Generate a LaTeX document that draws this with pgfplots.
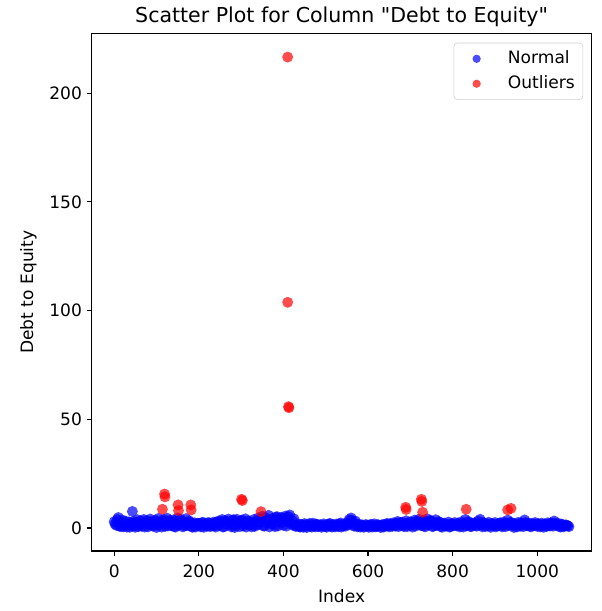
\documentclass[border=0pt]{standalone}
\usepackage{pgfplots}
\pgfplotsset{compat=1.18}
\usepackage{fontspec}
\setmainfont{DejaVu Sans}
\newfontfamily\qfont{DejaVu Sans}
\definecolor{mplblue}{RGB}{0,0,255}
\definecolor{mplred}{RGB}{255,0,0}
\begin{document}
\begin{tikzpicture}
\begin{axis}[
  name=ax,
  at={(0pt,0pt)}, anchor=south west,
  scale only axis, width=375.2pt, height=388.2pt,
  xmin=-53.7, xmax=1128.7, ymin=-10.6, ymax=227.5,
  xtick={0,200,400,600,800,1000}, ytick={0,50,100,150,200},
  tick pos=left, tick align=outside, major tick length=3.65pt,
  every tick/.style={black, line width=0.83pt},
  axis line style={black, line width=0.83pt},
  /pgf/number format/assume math mode=true,
  /pgf/number format/1000 sep={},
  tick label style={font=\fontsize{12.8}{15}\selectfont},
  x tick label style={anchor=base, yshift=-16.4pt},
  y tick label style={anchor=east, inner sep=0pt, xshift=-3.3pt},
  every axis x label/.style={at={(axis description cs:0.5,0)}, anchor=base, yshift=-38.8pt, font=\fontsize{12.8}{15}\selectfont},
  every axis y label/.style={at={(axis description cs:0,0.5)}, xshift=-43.8pt, anchor=base, rotate=90, font=\fontsize{12.8}{15}\selectfont},
  title style={at={(axis description cs:0.5,1)}, anchor=base, yshift=2.5pt, font=\fontsize{15.4}{18}\selectfont},
  title={Scatter Plot for Column {\qfont"}Debt to Equity{\qfont"}},
  xlabel={Index}, ylabel={Debt to Equity},
  legend style={at={(axis description cs:1,1)}, anchor=north east, xshift=-6.5pt, yshift=-7pt,
    draw=black!20, rounded corners=2.5pt, fill=white, inner xsep=3pt, inner ysep=5.7pt,
    row sep=6.4pt,
    font=\fontsize{12.8}{15}\selectfont, cells={anchor=west},
    nodes={inner xsep=3pt, inner ysep=0pt, text height=9.8pt, text depth=2.5pt}},
  legend image code/.code={\path[draw=none, fill=none] (0pt,-3pt) rectangle (34.5pt,3pt); \draw[#1, mark size=3.1pt] plot coordinates {(14pt,0pt)};},
]
\addplot[only marks, mark=*, mark size=4.1pt, mark options={fill=mplblue, draw opacity=0, fill opacity=0.7}] coordinates {
(0,2.9)(5,1.2)(10,4.8)(15,0.6)(20,3.6)(25,1.9)(30,0.4)(35,2.8)(40,1.1)(43,7.6)(45,3.0)
(50,0.3)(55,3.8)(60,1.7)(65,0.8)(70,3.9)(75,2.2)(80,0.5)(85,4.1)(90,1.4)(95,2.9)
(100,0.2)(105,4.4)(110,1.9)(115,3.1)(120,0.7)(125,4.5)(130,2.4)(135,1.0)(140,3.7)(145,0.4)
(150,4.6)(155,2.0)(160,3.2)(165,0.9)(170,4.3)(175,1.6)(180,2.6)(185,0.3)(190,2.4)(195,1.2)
(200,2.1)(205,0.5)(210,2.6)(215,1.5)(220,0.8)(225,2.3)(230,1.1)(235,2.7)(240,0.4)(245,3.1)
(250,1.8)(255,3.9)(260,0.6)(265,2.9)(270,4.1)(275,1.3)(280,3.5)(285,0.2)(290,4.0)(295,2.1)
(300,3.3)(305,0.9)(310,4.2)(315,1.7)(320,2.8)(325,0.5)(330,3.9)(335,1.4)(340,4.6)(345,2.5)
(350,5.4)(355,0.8)(360,3.6)(365,5.8)(370,1.9)(375,4.4)(380,0.6)(385,5.2)(390,2.8)(395,4.9)
(400,1.2)(405,5.5)(410,3.1)(415,6.0)(420,1.5)(425,4.2)(430,0.7)(435,1.8)(440,0.4)(445,1.3)
(450,2.0)(455,0.2)(460,1.5)(465,0.8)(470,2.2)(475,0.5)(480,1.6)(485,1.1)(490,0.3)(495,1.9)
(500,0.7)(505,1.4)(510,2.1)(515,0.4)(520,1.2)(525,1.8)(530,0.6)(535,2.3)(540,0.9)(545,1.5)
(550,2.4)(555,3.8)(560,4.6)(565,1.3)(570,3.2)(575,0.5)(580,1.7)(585,1.0)(590,0.3)(595,1.6)
(600,0.8)(605,1.3)(610,0.4)(615,1.9)(620,0.7)(625,1.4)(630,0.2)(635,1.6)(640,0.9)(645,2.1)
(650,0.5)(655,1.5)(660,2.4)(665,0.8)(670,3.0)(675,1.4)(680,2.6)(685,0.6)(690,3.3)(695,1.7)
(700,2.8)(705,0.4)(710,3.6)(715,1.9)(720,4.0)(725,1.1)(730,3.4)(735,0.5)(740,4.2)(745,2.0)
(750,3.1)(755,0.8)(760,3.8)(765,1.5)(770,2.6)(775,0.3)(780,2.2)(785,1.2)(790,2.7)(795,0.6)
(800,1.9)(805,2.5)(810,0.9)(815,1.6)(820,2.8)(825,0.4)(830,3.9)(835,1.3)(840,2.4)(845,0.7)
(850,2.0)(855,1.1)(860,3.2)(865,4.0)(870,0.5)(875,2.3)(880,1.4)(885,2.6)(890,0.3)(895,1.8)
(900,2.5)(905,0.9)(910,2.1)(915,1.2)(920,2.7)(925,0.6)(930,3.6)(935,1.5)(940,2.4)(945,0.2)
(950,1.9)(955,2.6)(960,0.8)(965,1.7)(970,3.7)(975,1.0)(980,2.3)(985,0.5)(990,1.8)(995,2.5)
(1000,0.7)(1005,1.4)(1010,2.2)(1015,0.3)(1020,1.6)(1025,2.4)(1030,0.9)(1035,2.0)(1040,3.2)(1045,1.1)
(1050,2.1)(1055,0.4)(1060,1.5)(1065,1.0)(1070,1.3)(1075,0.6)
(2,1.8)(7,3.9)(12,0.9)(17,2.3)(22,0.5)(27,3.1)(32,1.5)(37,0.3)(42,2.2)(47,1.0)
(52,2.6)(57,0.6)(62,3.3)(67,1.9)(72,0.4)(77,3.4)(82,1.5)(87,2.8)(92,0.8)(97,3.6)
(102,1.3)(107,2.5)(112,0.4)(117,3.9)(122,1.7)(127,0.9)(132,3.5)(137,2.1)(142,0.6)(147,3.0)
(152,1.3)(157,4.0)(162,0.5)(167,2.6)(172,1.1)(177,3.3)(182,0.7)(187,1.8)(192,0.4)(197,2.2)
(202,1.3)(207,2.4)(212,0.3)(217,1.9)(222,2.5)(227,0.6)(232,1.7)(237,0.9)(242,2.6)(247,1.2)
(252,3.0)(257,0.4)(262,3.4)(267,1.6)(272,2.4)(277,0.5)(282,3.8)(287,1.2)(292,2.7)(297,0.6)
(302,3.6)(307,2.0)(312,0.4)(317,3.2)(322,1.5)(327,2.6)(332,0.7)(337,3.0)(342,1.6)(347,4.1)
(352,1.0)(357,4.8)(362,2.2)(367,0.5)(372,3.9)(377,1.7)(382,5.0)(387,0.9)(392,4.1)(397,2.4)
(402,4.6)(407,0.8)(412,5.2)(417,2.3)(422,3.3)(427,0.9)(432,1.4)(437,0.6)(442,1.7)(447,0.3)
(452,1.4)(457,0.9)(462,2.1)(467,0.4)(472,1.2)(477,1.8)(482,0.6)(487,1.5)(492,0.9)(497,1.3)
(502,0.3)(507,1.8)(512,0.8)(517,1.6)(522,0.5)(527,1.1)(532,1.9)(537,0.4)(542,1.6)(547,0.8)
(552,1.4)(557,2.2)(562,3.5)(567,0.8)(572,1.9)(577,1.2)(582,0.4)(587,1.4)(592,0.8)(597,1.2)
(602,0.3)(607,1.7)(612,1.0)(617,0.5)(622,1.5)(627,0.9)(632,1.3)(637,0.4)(642,1.7)(647,1.0)
(652,2.0)(657,0.7)(662,1.6)(667,2.2)(672,0.6)(677,2.5)(682,1.2)(687,2.1)(692,0.6)(697,2.4)
(702,1.3)(707,2.6)(712,0.8)(717,3.1)(722,1.6)(727,2.7)(732,0.9)(737,3.0)(742,1.4)(747,3.5)
(752,0.6)(757,2.4)(762,1.2)(767,2.9)(772,0.7)(777,1.9)(782,0.9)(787,1.5)(792,0.4)(797,2.0)
(802,1.0)(807,1.5)(812,2.2)(817,0.5)(822,1.7)(827,2.1)(832,1.0)(837,3.0)(842,0.6)(847,1.6)
(852,2.4)(857,0.8)(862,2.0)(867,1.4)(872,2.5)(877,0.6)(882,1.8)(887,0.9)(892,2.1)(897,1.1)
(902,0.5)(907,1.7)(912,2.4)(917,0.5)(922,1.8)(927,2.2)(932,1.1)(937,2.6)(942,1.0)(947,1.7)
(952,0.5)(957,1.6)(962,2.4)(967,0.6)(972,2.5)(977,1.5)(982,0.8)(987,2.0)(992,1.0)(997,1.5)
(1002,2.0)(1007,0.5)(1012,1.4)(1017,1.9)(1022,0.7)(1027,1.3)(1032,2.3)(1037,0.8)(1042,2.2)(1047,1.6)
(1052,0.7)(1057,1.8)(1062,0.5)(1067,1.4)(1072,0.9)
};
\addlegendentry{Normal}
\addplot[only marks, mark=*, mark size=4.1pt, mark options={fill=mplred, draw opacity=0, fill opacity=0.7}] coordinates {
(114,8.6)(119,15.6)(120,14.3)(151,10.6)(152,8.0)(181,10.6)(182,8.3)(301,13.2)(303,12.6)
(347,7.5)(410,216.6)(410,103.8)(412,55.8)(413,55.3)(689,9.5)(690,8.5)(726,13.2)(727,12.2)
(729,7.2)(832,8.6)(930,8.3)(938,9.0)
};
\addlegendentry{Outliers}
\end{axis}
\draw[black, line width=0.83pt] (ax.south west) rectangle (ax.north east);
\pgfresetboundingbox
\path[use as bounding box] (-68.6pt,-45pt) rectangle (382.9pt,413.25pt);
\end{tikzpicture}
\end{document}
